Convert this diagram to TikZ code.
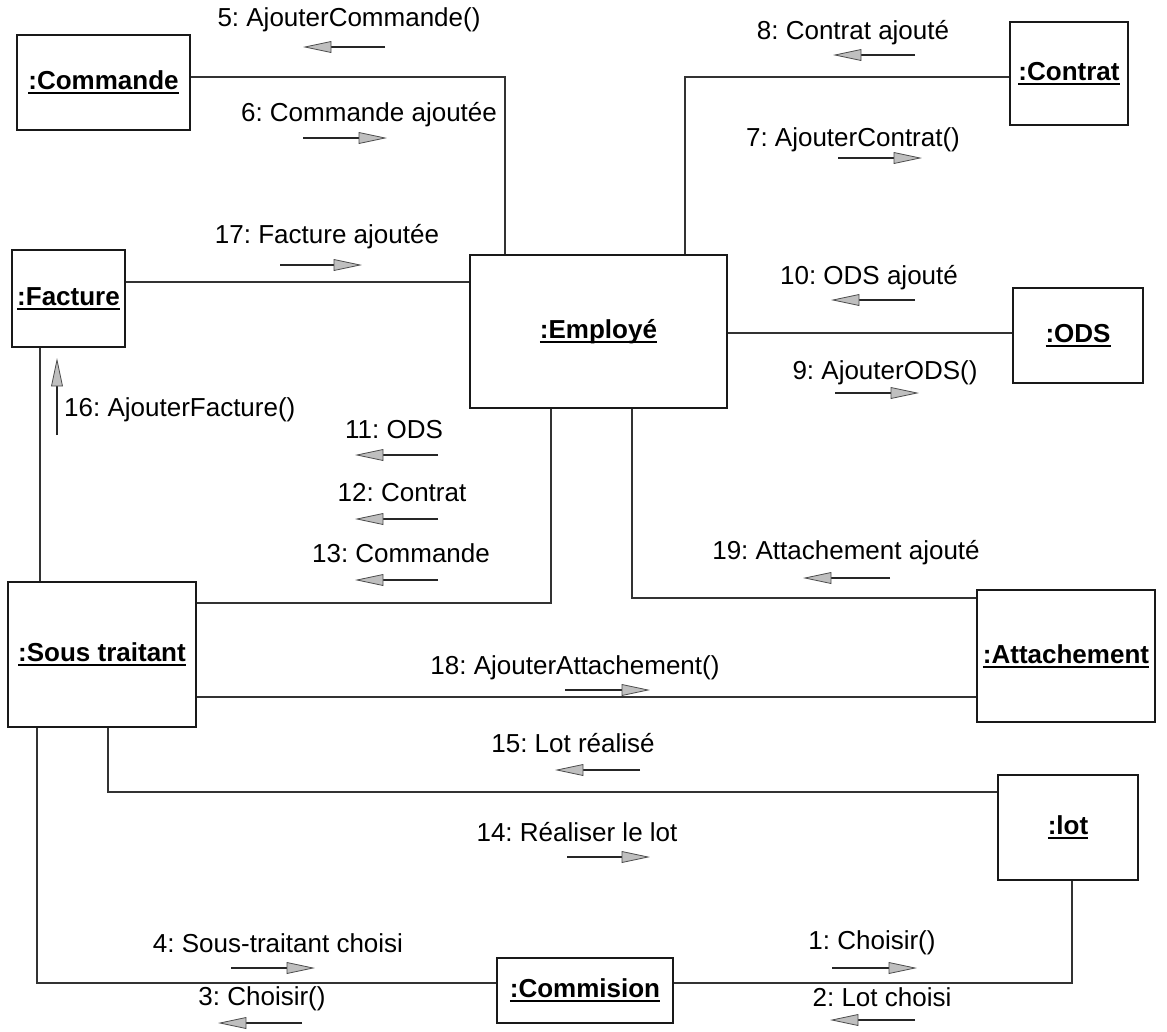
\documentclass[tikz,border=0pt]{standalone}
\usepackage{fontspec}
\setmainfont{Liberation Sans}
\frenchspacing
% bold object name with a thick underline
\newcommand\objname[1]{\setbox0\hbox{\bfseries #1}\rlap{\rule[-4.5pt]{\wd0}{1.8pt}}\box0}
\begin{document}
\begin{tikzpicture}[x=1pt,y=-1pt,
  every node/.style={font=\fontsize{26}{30}\selectfont},
  obj/.style={draw=black!90,line width=1.6pt,fill=white,inner sep=0pt},
  link/.style={draw=black!80,line width=1.2pt},
  msg/.style={inner sep=0pt},
  msgline/.style={draw=black!85,line width=1.2pt},
  msghead/.style={draw=black!70,fill=gray!50,line width=0.8pt,line join=miter}]
% message arrows: from x1 to x2 at height y, pointing right (R) or left (L)
\newcommand\msgR[3]{\draw[msgline] (#1,#3) -- (#2-22,#3);
  \filldraw[msghead] (#2,#3) -- (#2-26,#3-5.5) -- (#2-26,#3+5.5) -- cycle;}
\newcommand\msgL[3]{\draw[msgline] (#2,#3) -- (#1+22,#3);
  \filldraw[msghead] (#1,#3) -- (#1+26,#3-5.5) -- (#1+26,#3+5.5) -- cycle;}
\useasboundingbox (0,0) rectangle (1167,1031);
\fill[white] (0,0) rectangle (1167,1031);

% bend points of the links
\coordinate (kc) at (505,77);
\coordinate (kk) at (685,77);
\coordinate (ks) at (551,603);
\coordinate (ka) at (632,598);
\coordinate (kl) at (108,792);
\coordinate (kn) at (37,983);
\coordinate (kr) at (1072,983);

% objects
\node[obj,minimum width=173pt,minimum height=95pt] (commande) at (103.5,82.5) {\objname{:Commande}};
\node[obj,minimum width=118pt,minimum height=103pt] (contrat) at (1069,73.5) {\objname{:Contrat}};
\node[obj,minimum width=113pt,minimum height=97pt] (facture) at (68.5,298.5) {\objname{:Facture}};
\node[obj,minimum width=257pt,minimum height=153pt] (employe) at (598.5,331.5) {\objname{:Employé}};
\node[obj,minimum width=130pt,minimum height=95pt] (ods) at (1078,335.5) {\objname{:ODS}};
\node[obj,minimum width=188pt,minimum height=145pt] (sous) at (102,654.5) {\objname{:Sous traitant}};
\node[obj,minimum width=178pt,minimum height=132pt] (attache) at (1066,656) {\objname{:Attachement}};
\node[obj,minimum width=140pt,minimum height=105pt] (lot) at (1068,827.5) {\objname{:lot}};
\node[obj,minimum width=176pt,minimum height=65pt] (commision) at (585,990.5) {\objname{:Commision}};

% links between the objects
\draw[link] (commande.east |- kc) -- (kc) -- (employe.north -| kc);
\draw[link] (contrat.west |- kk) -- (kk) -- (employe.north -| kk);
\draw[link] (facture.east |- 0,282) -- (employe.west |- 0,282);
\draw[link] (employe.east |- 0,333) -- (ods.west |- 0,333);
\draw[link] (employe.south -| ks) -- (ks) -- (sous.east |- ks);
\draw[link] (employe.south -| ka) -- (ka) -- (attache.west |- ka);
\draw[link] (sous.east |- 0,697) -- (attache.west |- 0,697);
\draw[link] (sous.south -| kl) -- (kl) -- (lot.west |- kl);
\draw[link] (sous.south -| kn) -- (kn) -- (commision.west |- kn);
\draw[link] (lot.south -| kr) -- (kr) -- (commision.east |- kr);
\draw[link] (facture.south -| 40,0) -- (sous.north -| 40,0);

% messages
\node[msg] (m5) at (349,20) {5: AjouterCommande()};   \msgL{305}{385}{47}
\node[msg] (m6) at (369,115) {6: Commande ajoutée};   \msgR{303}{385}{138}
\node[msg] (m17) at (327,237) {17: Facture ajoutée};  \msgR{280}{360}{265}
\node[msg] (m8) at (853,33) {8: Contrat ajouté};      \msgL{835}{915}{55}
\node[msg] (m7) at (853,140) {7: AjouterContrat()};   \msgR{838}{920}{158}
\node[msg] (m10) at (869,278) {10: ODS ajouté};       \msgL{833}{915}{300}
\node[msg] (m9) at (885,373) {9: AjouterODS()};       \msgR{835}{917}{393}
\node[msg] (m11) at (394,430) {11: ODS};              \msgL{357}{438}{455}
\node[msg] (m12) at (402,493) {12: Contrat};          \msgL{357}{438}{519}
\node[msg] (m13) at (401,553) {13: Commande};         \msgL{357}{438}{580}
\node[msg] (m19) at (846,553) {19: Attachement ajouté}; \msgL{805}{890}{578}
\node[msg] (m18) at (575,668) {18: AjouterAttachement()}; \msgR{565}{648}{690}
\node[msg] (m15) at (573,743) {15: Lot réalisé};      \msgL{557}{640}{770}
\node[msg] (m14) at (577,832) {14: Réaliser le lot};  \msgR{567}{648}{857}
\node[msg] (m4) at (278,943) {4: Sous-traitant choisi}; \msgR{231}{313}{968}
\node[msg] (m1) at (872,943) {1: Choisir()};          \msgR{832}{915}{968}
\node[msg] (m3) at (262,999) {3: Choisir()};          \msgL{220}{302}{1023}
\node[msg] (m2) at (882,997) {2: Lot choisi};         \msgL{832}{915}{1020}
\node[msg,anchor=west] (m16) at (64,410) {16: AjouterFacture()};
\draw[msgline] (57,435) -- (57,384);
\filldraw[msghead] (57,360) -- (51.5,386) -- (62.5,386) -- cycle;
\end{tikzpicture}
\end{document}
